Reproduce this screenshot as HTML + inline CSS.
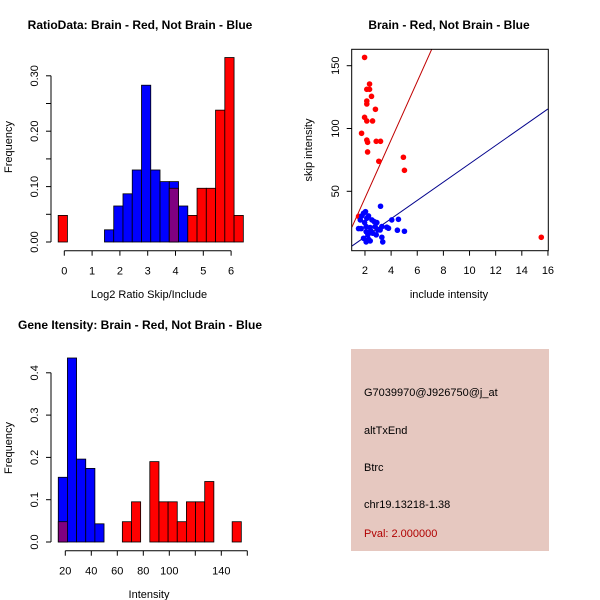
<!DOCTYPE html>
<html><head><meta charset="utf-8"><style>
body{margin:0;background:#fff}
svg{display:block;font-family:"Liberation Sans",Arial,sans-serif}
</style></head><body>
<svg id="s" width="600" height="600" viewBox="0 0 600 600">
<rect width="600" height="600" fill="#fff"/>
<g id="p1"></g>
<g id="p2"></g>
<g id="p3"></g>
<g>
<rect x="351" y="349" width="198" height="202" fill="#e6c8c0"/>
<text x="364" y="396" font-size="11">G7039970@J926750@j_at</text>
<text x="364" y="434" font-size="11">altTxEnd</text>
<text x="364" y="471" font-size="11">Btrc</text>
<text x="364" y="508" font-size="11">chr19.13218-1.38</text>
<text x="364" y="537" font-size="11" fill="#b00000">Pval: 2.000000</text>
</g>
</svg>
<script>
// Panel 1 data
const h1Start=-0.22, h1Width=0.333;
const h1Blue=[0,0,0,0,0,0.022,0.065,0.087,0.13,0.283,0.13,0.109,0.109,0.065,0,0,0,0,0,0];
const h1Red=[0.048,0,0,0,0,0,0,0,0,0,0,0,0.097,0,0.048,0.097,0.097,0.238,0.333,0.048];
const h1XTicks=[0,1,2,3,4,5,6];
const h1YTicks=["0.00","0.10","0.20","0.30"];
// Panel 2 data
const redX=[1.97,2.35,2.14,2.35,2.5,2.14,2.14,2.8,1.97,2.14,2.58,1.74,2.14,2.2,2.86,3.19,2.2,3.06,4.94,5.02,15.49,1.51];
const redY=[156.6,135.4,131.2,131.2,125.6,121.9,119.5,115.3,108.9,106,106,96.2,90.8,89,89.8,89.8,81.3,73.9,77.1,66.7,13.4,30.1];
const blueX=[3.19,2.04,1.89,1.76,2.27,2.14,1.64,2.53,2.70,2.91,1.97,1.51,1.71,2.09,2.40,2.78,3.29,3.67,4.05,4.56,2.98,2.45,2.09,2.60,2.22,2.86,1.89,2.27,3.29,2.40,2.09,3.36,4.48,5.02,3.80,3.16];
const blueY=[38.1,33.8,32.5,30.4,30.4,28.5,27.2,27.2,25.9,25.1,25.1,20.3,20.3,21.9,21.1,21.9,21.9,21.4,27.2,27.7,19.2,18.4,17.9,16.6,15.3,15.3,12.6,11.8,13.4,10.5,9.7,9.7,19.0,18.2,20.6,19.2];
const redLine=[-1.8,23.2];
const blueLine=[-0.9,7.28];
const sXTicks=[2,4,6,8,10,12,14,16];
const sYTicks=[50,100,150];
// Panel 3 data
const h3Start=14.6, h3Width=7.04;
const h3Blue=[0.153,0.435,0.196,0.174,0.043,0,0,0,0,0,0,0,0,0,0,0,0,0,0,0];
const h3Red=[0.048,0,0,0,0,0,0,0.048,0.095,0,0.19,0.095,0.095,0.048,0.095,0.095,0.143,0,0,0.048];
const h3XTicks=[20,40,60,80,100,120,140,160];
const h3XLabels=["20","40","60","80","100","","140",""];
const h3YTicks=["0.0","0.1","0.2","0.3","0.4"];

const NS="http://www.w3.org/2000/svg";
function mk(p,t,a){const e=document.createElementNS(NS,t);for(const k in a)e.setAttribute(k,a[k]);p.appendChild(e);return e;}

function hist(g,o){
  const X=v=>o.x0+(v-o.xa)*o.xs, Y=v=>o.y0-v*o.ys;
  const n=Math.max(o.blue.length,o.red.length);
  for(let i=0;i<n;i++){
    const a=o.start+i*o.w,b=a+o.w,bv=o.blue[i]||0,rv=o.red[i]||0;
    const x1=X(a),x2=X(b);
    if(bv>0){const r=mk(g,'rect',{x:x1,y:Y(bv),width:x2-x1,height:Y(0)-Y(bv),fill:'#0000ff',stroke:'#000',"stroke-width":0.8});
      
      }
    if(rv>0){const r=mk(g,'rect',{x:x1,y:Y(rv),width:x2-x1,height:Y(0)-Y(rv),fill:bv>0?'#800080':'#ff0000',stroke:'#000',"stroke-width":0.8});
      
      }
  }
  // y axis
  const yt=o.yticks.map(Number);
  mk(g,'line',{x1:o.ax,y1:Y(yt[0]),x2:o.ax,y2:Y(yt[yt.length-1]),stroke:'#000'});
  const step=(yt[1]-yt[0])/(o.yminor||1);
  for(let v=yt[0];v<=yt[yt.length-1]+1e-9;v+=step){mk(g,'line',{x1:o.ax-5,y1:Y(v),x2:o.ax,y2:Y(v),stroke:'#000'});}
  o.yticks.forEach(s=>{const yy=Y(Number(s));const t=mk(g,'text',{x:o.ax-13,y:yy,"font-size":11,"text-anchor":"middle",transform:`rotate(-90 ${o.ax-13} ${yy})`});t.textContent=s;
    
    });
  // x axis
  mk(g,'line',{x1:X(o.xticks[0]),y1:o.axy,x2:X(o.xticks[o.xticks.length-1]),y2:o.axy,stroke:'#000'});
  o.xticks.forEach((v,i)=>{mk(g,'line',{x1:X(v),y1:o.axy,x2:X(v),y2:o.axy+5,stroke:'#000'});
    const t=mk(g,'text',{x:X(v),y:o.axy+24,"font-size":11,"text-anchor":"middle"});t.textContent=o.xlabels?o.xlabels[i]:v;
    
    });
}

hist(document.getElementById('p1'),{start:h1Start,w:h1Width,blue:h1Blue,red:h1Red,x0:64.3,xa:0,xs:27.8,y0:242,ys:554,ax:51,axy:250.7,xticks:h1XTicks,yticks:h1YTicks,yminor:2});
hist(document.getElementById('p3'),{start:h3Start,w:h3Width,blue:h3Blue,red:h3Red,x0:65.3,xa:20,xs:1.3,y0:542,ys:423,ax:51,axy:550.7,xticks:h3XTicks,xlabels:h3XLabels,yticks:h3YTicks,yminor:1});

// Scatter
(function(){
  const g=document.getElementById('p2');
  const X=v=>351.9+(v-1)*13.07, Y=v=>191.3-(v-50)*1.256;
  const cp=mk(g,'clipPath',{id:'c2'});mk(cp,'rect',{x:351.7,y:49.3,width:196.6,height:201.4});
  const lg=mk(g,'g',{"clip-path":"url(#c2)"});
  [[redLine,'#c00000','red-fit-line'],[blueLine,'#00008b','blue-fit-line']].forEach(([l,c,n])=>{
    const e=mk(lg,'line',{x1:X(1),y1:Y(l[0]+l[1]*1),x2:X(16),y2:Y(l[0]+l[1]*16),stroke:c,"stroke-width":1});
    
    
  });
  redX.forEach((v,i)=>{const c=mk(lg,'circle',{cx:X(v),cy:Y(redY[i]),r:2.8,fill:'#ff0000'});
    
    });
  blueX.forEach((v,i)=>{const c=mk(lg,'circle',{cx:X(v),cy:Y(blueY[i]),r:2.8,fill:'#0000ff'});
    
    });
  mk(g,'rect',{x:351.7,y:49.3,width:196.6,height:201.4,fill:'none',stroke:'#000'});
  sXTicks.forEach(v=>{mk(g,'line',{x1:X(v),y1:250.7,x2:X(v),y2:255.7,stroke:'#000'});
    const t=mk(g,'text',{x:X(v),y:274,"font-size":11,"text-anchor":"middle"});t.textContent=v;
    
    });
  sYTicks.forEach(v=>{mk(g,'line',{x1:346.7,y1:Y(v),x2:351.7,y2:Y(v),stroke:'#000'});
    const t=mk(g,'text',{x:339,y:Y(v),"font-size":11,"text-anchor":"middle",transform:`rotate(-90 339 ${Y(v)})`});t.textContent=v;
    
    });
})();
</script>
<svg width="600" height="600" style="position:absolute;left:0;top:0">
<g font-family="Liberation Sans, Arial, sans-serif">
<text x="140" y="29" font-size="12" font-weight="bold" text-anchor="middle">RatioData: Brain - Red, Not Brain - Blue</text>
<text x="149" y="298" font-size="11" text-anchor="middle">Log2 Ratio Skip/Include</text>
<text x="12" y="147" font-size="11" text-anchor="middle" transform="rotate(-90 12 147)">Frequency</text>
<text x="449" y="29" font-size="12" font-weight="bold" text-anchor="middle">Brain - Red, Not Brain - Blue</text>
<text x="449" y="298" font-size="11" text-anchor="middle">include intensity</text>
<text x="312" y="150" font-size="11" text-anchor="middle" transform="rotate(-90 312 150)">skip intensity</text>
<text x="140" y="329" font-size="12" font-weight="bold" text-anchor="middle">Gene Itensity: Brain - Red, Not Brain - Blue</text>
<text x="149" y="598" font-size="11" text-anchor="middle">Intensity</text>
<text x="12" y="448" font-size="11" text-anchor="middle" transform="rotate(-90 12 448)">Frequency</text>
</g></svg>
</body></html>
